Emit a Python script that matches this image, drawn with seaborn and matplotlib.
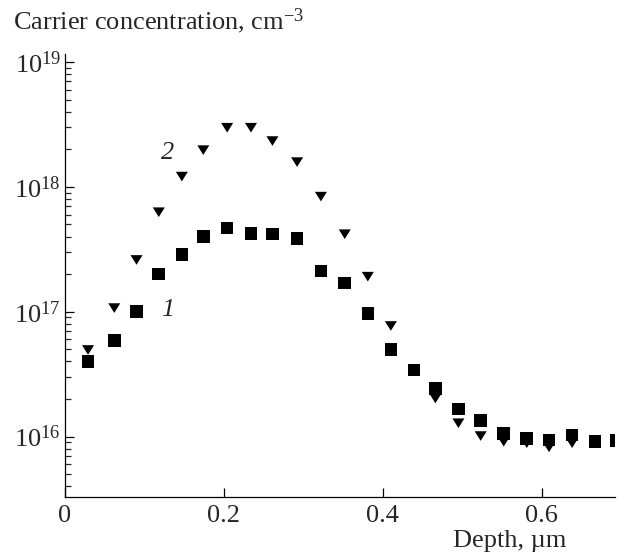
import numpy as np
import pandas as pd
import matplotlib
matplotlib.use("Agg")
import matplotlib.pyplot as plt
import matplotlib.ticker as mticker
from matplotlib.path import Path
import seaborn as sns

# ---- data ----
depth_1 = [0.029, 0.062, 0.090, 0.118, 0.147, 0.174, 0.204, 0.234, 0.261, 0.292,
           0.322, 0.352, 0.381, 0.410, 0.439, 0.466, 0.495, 0.523, 0.552, 0.581,
           0.609, 0.638, 0.667, 0.694]
conc_1 = [4.0e16, 5.9e16, 1.01e17, 2.0e17, 2.86e17, 4.0e17, 4.69e17, 4.25e17, 4.2e17, 3.87e17,
          2.12e17, 1.70e17, 9.7e16, 5.0e16, 3.42e16, 2.44e16, 1.66e16, 1.34e16, 1.06e16, 9.7e15,
          9.4e15, 1.03e16, 9.1e15, 9.3e15]

depth_2 = [0.029, 0.062, 0.090, 0.118, 0.147, 0.174, 0.204, 0.234, 0.261, 0.292,
           0.322, 0.352, 0.381, 0.410, 0.466, 0.495, 0.523, 0.552, 0.581, 0.609,
           0.638]
conc_2 = [4.94e16, 1.07e17, 2.60e17, 6.27e17, 1.21e18, 1.97e18, 2.98e18, 2.98e18, 2.33e18, 1.58e18,
          8.36e17, 4.18e17, 1.91e17, 7.69e16, 2.02e16, 1.28e16, 1.01e16, 9.1e15, 8.85e15, 8.2e15,
          8.85e15]

series_labels = ["1", "2"]
x_ticks = [0, 0.2, 0.4, 0.6]
x_tick_labels = ["0", "0.2", "0.4", "0.6"]
y_label = "Carrier concentration, cm$^{-3}$"
x_label = "Depth, µm"

df = pd.concat([
    pd.DataFrame({"depth": depth_2, "conc": conc_2, "series": series_labels[1]}),
    pd.DataFrame({"depth": depth_1, "conc": conc_1, "series": series_labels[0]}),
])

sns.set_style("ticks")
plt.rcParams["font.family"] = ["Liberation Serif", "DejaVu Serif"]
plt.rcParams["mathtext.fontset"] = "custom"
plt.rcParams["mathtext.rm"] = "Liberation Serif"
plt.rcParams["mathtext.it"] = "Liberation Serif:italic"

FS = 19

fig = plt.figure(figsize=(6.27, 5.55), dpi=100)
ax = fig.add_axes([65/627, (555-496.7)/555, (615-65)/627, (496.7-54.5)/555])

tri = Path([(-1, 0.8), (1, 0.8), (0, -0.8), (-1, 0.8)],
           [Path.MOVETO, Path.LINETO, Path.LINETO, Path.CLOSEPOLY])

sns.scatterplot(data=df, x="depth", y="conc", hue="series", style="series",
                markers={series_labels[0]: "s", series_labels[1]: tri},
                palette={series_labels[0]: "black", series_labels[1]: "black"},
                size="series", sizes={series_labels[0]: 82, series_labels[1]: 75},
                linewidth=0, legend=False, ax=ax)

ax.set_yscale("log")
ax.set_xlim(0, 0.692)
ax.set_ylim(3.3e15, 1.15e19)
ax.set_xticks(x_ticks)
ax.set_xticklabels(x_tick_labels)
ax.xaxis.set_minor_locator(mticker.NullLocator())
ax.yaxis.set_major_locator(mticker.LogLocator(base=10, numticks=10))
ax.yaxis.set_minor_locator(mticker.LogLocator(base=10, subs=np.arange(2, 10), numticks=20))
ax.yaxis.set_major_formatter(mticker.LogFormatterMathtext())
ax.yaxis.set_minor_formatter(mticker.NullFormatter())

ax.tick_params(axis="both", which="major", direction="in", length=6.5, width=0.9,
               labelsize=FS, color="black")
ax.tick_params(axis="y", which="minor", direction="in", length=4.5, width=0.9)
ax.tick_params(axis="x", which="major", pad=6)
ax.tick_params(axis="y", which="major", pad=3)

for s in ["top", "right"]:
    ax.spines[s].set_visible(False)
for s in ["left", "bottom"]:
    ax.spines[s].set_linewidth(0.9)
    ax.spines[s].set_color("black")

ax.set_xlabel("")
ax.set_ylabel("")

ax.text(0.1296, 1.86e18, series_labels[1], fontsize=FS, style="italic",
        ha="center", va="center")
ax.text(0.129, 1.03e17, series_labels[0], fontsize=FS, style="italic",
        ha="center", va="center")

fig.text(13/627, 1 - 21/555, y_label, fontsize=FS, ha="left", va="center")
fig.text(510/627, 1 - 541/555, x_label, fontsize=FS, ha="center", va="center")

fig.savefig("out.png", dpi=100)
